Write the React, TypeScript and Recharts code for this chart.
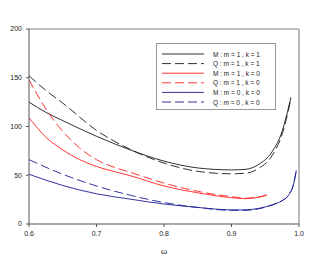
import React from 'react';
import { LineChart, Line, XAxis, YAxis, ReferenceLine } from 'recharts';

const X_TICKS = [0.6, 0.7, 0.8, 0.9, 1.0];
const Y_TICKS = [0, 50, 100, 150, 200];

const W_11 = [0.6, 0.625, 0.65, 0.7, 0.75, 0.8, 0.85, 0.9, 0.92, 0.94, 0.96, 0.975, 0.988];
const M_11 = [125, 114.5, 106, 90, 76, 64.5, 57.5, 55.5, 56, 61, 74, 95, 130];
const Q_11 = [152, 137, 124, 96, 76.5, 62.5, 54, 51.5, 52, 57, 70, 92, 128];

const W_10 = [0.6, 0.625, 0.65, 0.675, 0.7, 0.725, 0.75, 0.8, 0.85, 0.9, 0.92, 0.94, 0.952];
const M_10 = [109, 89, 76, 66, 59, 54, 49.5, 39, 32, 27, 26, 27.5, 29.5];
const Q_10 = [148, 118, 95, 78, 66, 58.5, 53, 42, 33.5, 28, 26.5, 27.5, 30];

const W_00 = [0.6, 0.65, 0.7, 0.75, 0.8, 0.85, 0.9, 0.92, 0.94, 0.96, 0.975, 0.985, 0.992, 0.996];
const M_00 = [51, 39.5, 31, 25.5, 20.5, 17, 14.5, 14.5, 16, 19.5, 24, 30, 41, 55];
const Q_00 = [66, 51, 39, 29.5, 22, 17, 14, 14, 15.5, 19.5, 24, 30, 41, 55];

const LABELS = [
  'M : m = 1 , k = 1',
  'Q : m = 1 , k = 1',
  'M : m = 1 , k = 0',
  'Q : m = 1 , k = 0',
  'M : m = 0 , k = 0',
  'Q : m = 0 , k = 0',
];

const BLACK = '#1a1a1a';
const RED = '#ff2020';
const BLUE = '#1c1c96';
const DASH = '9 4';

const toData = (ws: number[], vs: number[]) => ws.map((w, i) => ({ w, v: vs[i] }));

const SERIES = [
  { name: LABELS[0], data: toData(W_11, M_11), color: BLACK, dash: undefined },
  { name: LABELS[1], data: toData(W_11, Q_11), color: BLACK, dash: DASH },
  { name: LABELS[2], data: toData(W_10, M_10), color: RED, dash: undefined },
  { name: LABELS[3], data: toData(W_10, Q_10), color: RED, dash: DASH },
  { name: LABELS[4], data: toData(W_00, M_00), color: BLUE, dash: undefined },
  { name: LABELS[5], data: toData(W_00, Q_00), color: BLUE, dash: DASH },
];

const FONT = '"Liberation Sans", Arial, sans-serif';

export default function App() {
  return (
    <div style={{ position: 'relative', width: 307, height: 251, fontFamily: FONT }}>
      <LineChart width={307} height={251} margin={{ top: 21, right: 16, left: 0, bottom: 13 }}>
        <XAxis
          type="number"
          dataKey="w"
          domain={[0.6, 1.0]}
          ticks={X_TICKS}
          tickFormatter={(v: number) => v.toFixed(1)}
          height={22}
          tickSize={3}
          tickMargin={4}
          stroke="#555"
          tick={{ fontSize: 7, fill: '#222', fontFamily: FONT }}
          allowDataOverflow
          label={{ value: 'ω', position: 'bottom', offset: 2, fontSize: 8, fill: '#222', fontFamily: FONT }}
        />
        <YAxis
          type="number"
          domain={[0, 200]}
          ticks={Y_TICKS}
          width={21}
          tickSize={3}
          tickMargin={4}
          stroke="#555"
          tick={{ fontSize: 7, fill: '#222', fontFamily: FONT }}
        />
        <ReferenceLine y={200} stroke="#aaa" strokeWidth={1.5} />
        <ReferenceLine x={1.0} stroke="#777" strokeWidth={1} />
        {SERIES.map((s) => (
          <Line
            key={s.name}
            data={s.data}
            dataKey="v"
            name={s.name}
            type="monotone"
            stroke={s.color}
            strokeWidth={0.9}
            strokeDasharray={s.dash}
            dot={false}
            activeDot={false}
            isAnimationActive={false}
          />
        ))}
      </LineChart>
      <div
        style={{
          position: 'absolute',
          left: 148,
          top: 35,
          width: 118,
          height: 65,
          border: '1px solid #999',
          background: '#fff',
        }}
      >
        <svg width={118} height={65}>
          {SERIES.map((s, i) => {
            const y = 10 + i * 9.6;
            return (
              <g key={s.name}>
                <line x1={5} x2={47} y1={y} y2={y} stroke={s.color} strokeWidth={0.9} strokeDasharray={s.dash} />
                <text x={56} y={y} dominantBaseline="central" fontSize={6.5} fill="#222" fontFamily={FONT}>
                  {s.name}
                </text>
              </g>
            );
          })}
        </svg>
      </div>
    </div>
  );
}
